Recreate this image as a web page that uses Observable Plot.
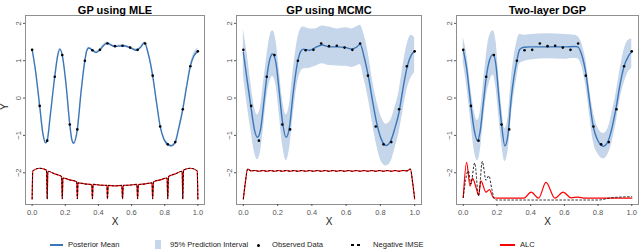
<!DOCTYPE html>
<html><head><meta charset="utf-8">
<script src="https://cdn.jsdelivr.net/npm/d3@7"></script>
<script src="https://cdn.jsdelivr.net/npm/@observablehq/plot@0.6"></script>
<style>
body{margin:0;background:#fff;font-family:"Liberation Sans",Arial,sans-serif;}
#wrap{position:relative;width:640px;height:251px;overflow:hidden;background:#fff;}
.panel{position:absolute;top:0;}
.lg{position:absolute;font-size:7.6px;color:#222;line-height:10px;top:240px;white-space:nowrap;}
.sw{position:absolute;}
</style></head><body><div id="wrap"></div>
<script>
// ---- data ----
const titles = ["GP using MLE", "GP using MCMC", "Two-layer DGP"];
const xTicks = [0, 0.2, 0.4, 0.6, 0.8, 1.0];
const yTicks = [-2, -1, 0, 1, 2];

const xObs = [0, 0.0455, 0.0909, 0.1364, 0.1818, 0.2273, 0.2727, 0.3182, 0.3636, 0.4091, 0.4545, 0.5, 0.5455, 0.5909, 0.6364, 0.6818, 0.7273, 0.7727, 0.8182, 0.8636, 0.9091, 0.9545, 1.0];
const yObs = [1.29, -0.21, -1.14, 0.57, 1.15, -0.71, -0.84, 1.00, 1.28, 1.29, 1.46, 1.39, 1.40, 1.35, 1.29, 1.46, 0.60, -0.76, -1.24, -1.18, -0.30, 0.85, 1.25];

// GP using MLE
const mleX = [0, 0.02, 0.0455, 0.065, 0.082, 0.0909, 0.11, 0.1364, 0.155, 0.168, 0.1818, 0.205, 0.2273, 0.24, 0.251, 0.2727, 0.295, 0.3182, 0.33, 0.342, 0.3636, 0.386, 0.4091, 0.43, 0.453, 0.48, 0.5, 0.5455, 0.5909, 0.63, 0.655, 0.678, 0.70, 0.7273, 0.75, 0.7727, 0.795, 0.8182, 0.84, 0.8636, 0.885, 0.9091, 0.93, 0.9545, 0.975, 1.0];
const mleMean = [1.30, 0.75, -0.21, -0.95, -1.20, -1.14, -0.45, 0.57, 1.15, 1.31, 1.15, 0.35, -0.71, -1.12, -1.21, -0.84, 0.15, 1.00, 1.27, 1.34, 1.28, 1.22, 1.29, 1.40, 1.47, 1.41, 1.38, 1.40, 1.35, 1.28, 1.36, 1.48, 1.20, 0.60, -0.10, -0.76, -1.10, -1.24, -1.28, -1.18, -0.80, -0.30, 0.25, 0.85, 1.12, 1.25];
const mleLo = [1.26, 0.71, -0.24, -0.98, -1.23, -1.17, -0.48, 0.54, 1.12, 1.28, 1.12, 0.32, -0.74, -1.15, -1.24, -0.87, 0.12, 0.97, 1.24, 1.31, 1.25, 1.19, 1.26, 1.37, 1.44, 1.38, 1.35, 1.37, 1.32, 1.25, 1.33, 1.45, 1.17, 0.57, -0.13, -0.79, -1.13, -1.27, -1.31, -1.21, -0.83, -0.33, 0.21, 0.80, 1.05, 1.17];
const mleHi = [1.34, 0.79, -0.18, -0.92, -1.17, -1.11, -0.42, 0.60, 1.18, 1.34, 1.18, 0.38, -0.68, -1.09, -1.18, -0.81, 0.18, 1.03, 1.30, 1.37, 1.31, 1.25, 1.32, 1.43, 1.50, 1.44, 1.41, 1.43, 1.38, 1.31, 1.39, 1.51, 1.23, 0.63, -0.07, -0.73, -1.07, -1.21, -1.25, -1.15, -0.77, -0.27, 0.29, 0.90, 1.19, 1.33];
const mleCritX = [0, 0.004, 0.045, 0.087, 0.0909, 0.095, 0.136, 0.178, 0.1818, 0.186, 0.227, 0.269, 0.2727, 0.277, 0.318, 0.360, 0.3636, 0.368, 0.409, 0.451, 0.4545, 0.459, 0.5, 0.541, 0.5455, 0.550, 0.591, 0.632, 0.6364, 0.641, 0.682, 0.723, 0.7273, 0.732, 0.773, 0.814, 0.8182, 0.823, 0.864, 0.905, 0.9091, 0.913, 0.955, 0.996, 1.0];
const mleAlc = [-2.70, -1.95, -1.88, -1.93, -2.70, -1.96, -2.03, -2.10, -2.70, -2.14, -2.19, -2.24, -2.70, -2.27, -2.30, -2.32, -2.70, -2.31, -2.33, -2.34, -2.70, -2.34, -2.35, -2.34, -2.70, -2.34, -2.33, -2.31, -2.70, -2.32, -2.30, -2.27, -2.70, -2.24, -2.19, -2.14, -2.70, -2.10, -2.03, -1.96, -2.70, -1.93, -1.88, -1.95, -2.70];
const mleImse = [-2.70, -1.95, -1.88, -1.93, -2.70, -1.96, -2.03, -2.10, -2.70, -2.14, -2.19, -2.24, -2.70, -2.27, -2.30, -2.32, -2.70, -2.31, -2.33, -2.34, -2.70, -2.34, -2.35, -2.34, -2.70, -2.34, -2.33, -2.31, -2.70, -2.32, -2.30, -2.27, -2.70, -2.24, -2.19, -2.14, -2.70, -2.10, -2.03, -1.96, -2.70, -1.93, -1.88, -1.95, -2.70];

// GP using MCMC
const mcX = [0, 0.02, 0.0455, 0.065, 0.0825, 0.1, 0.12, 0.1364, 0.155, 0.171, 0.19, 0.21, 0.2273, 0.25, 0.27, 0.29, 0.3182, 0.335, 0.35, 0.387, 0.42, 0.46, 0.5, 0.55, 0.6, 0.633, 0.66, 0.682, 0.705, 0.731, 0.755, 0.78, 0.805, 0.833, 0.86, 0.885, 0.908, 0.93, 0.957, 0.98, 1.0];
const mcMean = [1.22, 0.55, -0.28, -0.85, -1.05, -0.85, -0.10, 0.55, 1.05, 1.18, 0.95, 0.15, -0.60, -1.05, -0.75, 0.10, 1.00, 1.25, 1.31, 1.28, 1.35, 1.42, 1.37, 1.37, 1.35, 1.31, 1.36, 1.44, 1.10, 0.55, -0.10, -0.70, -1.10, -1.27, -1.15, -0.80, -0.40, 0.20, 0.85, 1.15, 1.25];
const mcHi = [1.85, 1.25, 0.35, -0.25, -0.45, -0.25, 0.50, 1.10, 1.65, 1.80, 1.55, 0.75, 0.00, -0.45, -0.15, 0.70, 1.60, 1.85, 1.90, 1.85, 1.85, 1.93, 1.90, 1.85, 1.88, 1.85, 1.90, 1.95, 1.70, 1.15, 0.45, -0.10, -0.50, -0.70, -0.60, -0.25, 0.15, 0.80, 1.45, 1.68, 1.62];
const mcLo = [0.62, -0.10, -0.90, -1.45, -1.65, -1.45, -0.70, 0.00, 0.45, 0.58, 0.35, -0.45, -1.20, -1.68, -1.35, -0.50, 0.45, 0.70, 0.78, 0.80, 0.85, 0.92, 0.87, 0.86, 0.85, 0.82, 0.86, 0.90, 0.50, -0.05, -0.70, -1.30, -1.70, -1.82, -1.72, -1.35, -0.95, -0.40, 0.25, 0.55, 0.68];
const mcCritX = [0, 0.012, 0.025, 0.045, 0.068, 0.091, 0.114, 0.136, 0.159, 0.182, 0.205, 0.227, 0.25, 0.273, 0.295, 0.318, 0.341, 0.364, 0.386, 0.409, 0.432, 0.455, 0.477, 0.5, 0.523, 0.545, 0.568, 0.591, 0.614, 0.636, 0.659, 0.682, 0.705, 0.727, 0.75, 0.773, 0.795, 0.818, 0.841, 0.864, 0.886, 0.909, 0.932, 0.955, 0.975, 0.988, 1.0];
const mcAlc = [-2.70, -2.25, -1.90, -1.95, -1.94, -1.96, -1.94, -1.96, -1.94, -1.96, -1.94, -1.96, -1.94, -1.96, -1.94, -1.96, -1.94, -1.96, -1.94, -1.96, -1.94, -1.96, -1.94, -1.96, -1.94, -1.96, -1.94, -1.96, -1.94, -1.96, -1.94, -1.96, -1.94, -1.96, -1.94, -1.96, -1.94, -1.96, -1.94, -1.96, -1.94, -1.96, -1.94, -1.95, -1.90, -2.25, -2.70];
const mcImse = [-2.70, -2.25, -1.90, -1.95, -1.94, -1.96, -1.94, -1.96, -1.94, -1.96, -1.94, -1.96, -1.94, -1.96, -1.94, -1.96, -1.94, -1.96, -1.94, -1.96, -1.94, -1.96, -1.94, -1.96, -1.94, -1.96, -1.94, -1.96, -1.94, -1.96, -1.94, -1.96, -1.94, -1.96, -1.94, -1.96, -1.94, -1.96, -1.94, -1.96, -1.94, -1.96, -1.94, -1.95, -1.90, -2.25, -2.70];

// Two-layer DGP
const dgX = [0, 0.02, 0.0455, 0.065, 0.085, 0.1, 0.12, 0.1364, 0.155, 0.178, 0.195, 0.21, 0.2273, 0.247, 0.265, 0.285, 0.3182, 0.335, 0.36, 0.4, 0.5, 0.6, 0.66, 0.68, 0.7, 0.73, 0.75, 0.769, 0.8, 0.832, 0.86, 0.885, 0.906, 0.93, 0.955, 0.98, 1.0];
const dgMean = [1.29, 0.80, -0.20, -0.85, -1.14, -0.90, -0.10, 0.55, 1.00, 1.17, 0.85, 0.10, -0.70, -1.28, -1.00, 0.00, 1.00, 1.30, 1.36, 1.37, 1.37, 1.37, 1.38, 1.37, 1.20, 0.60, -0.10, -0.70, -1.15, -1.29, -1.15, -0.75, -0.29, 0.35, 0.86, 1.12, 1.24];
const dgHi = [1.62, 1.20, 0.25, -0.35, -0.60, -0.40, 0.40, 1.10, 1.65, 1.80, 1.50, 0.65, -0.20, -0.82, -0.55, 0.50, 1.50, 1.70, 1.68, 1.70, 1.72, 1.70, 1.68, 1.65, 1.50, 0.95, 0.25, -0.30, -0.80, -0.95, -0.80, -0.35, 0.10, 0.75, 1.30, 1.55, 1.58];
const dgLo = [0.95, 0.35, -0.65, -1.40, -1.68, -1.45, -0.60, 0.00, 0.40, 0.62, 0.25, -0.45, -1.20, -1.70, -1.45, -0.50, 0.55, 0.92, 0.98, 1.02, 1.05, 1.04, 1.06, 1.05, 0.90, 0.25, -0.45, -1.10, -1.50, -1.63, -1.50, -1.15, -0.70, -0.05, 0.40, 0.70, 0.80];
const dgAlcX = [0, 0.02, 0.04, 0.055, 0.075, 0.0909, 0.105, 0.135, 0.155, 0.18, 0.2, 0.36, 0.403, 0.447, 0.491, 0.544, 0.593, 0.64, 0.68, 0.72, 1.0];
const dgAlc = [-2.66, -1.72, -2.35, -2.15, -2.38, -2.60, -2.22, -2.52, -2.45, -2.67, -2.68, -2.68, -2.52, -2.68, -2.26, -2.68, -2.52, -2.67, -2.65, -2.68, -2.68];
const dgImseX = [0, 0.03, 0.045, 0.068, 0.0909, 0.113, 0.135, 0.152, 0.17, 0.185, 0.2, 0.8, 0.88, 1.0];
const dgImse = [-2.66, -1.95, -2.30, -1.74, -2.62, -1.70, -2.20, -2.08, -2.45, -2.70, -2.73, -2.73, -2.67, -2.64];

const legendLabels = ["Posterior Mean", "95% Prediction Interval", "Observed Data", "Negative IMSE", "ALC"];

// ---- styles ----
const BLUE = "#3a76b8", BAND = "#c5d5ea", RED = "#ff0000";
const FONT = "'Liberation Sans', Arial, Helvetica, sans-serif";

const zip = (xs, ys) => xs.map((x, i) => ({x, y: ys[i]}));
const zipBand = (xs, lo, hi) => xs.map((x, i) => ({x, lo: lo[i], hi: hi[i]}));
const obs = zip(xObs, yObs);

const panels = [
  {left: 0, width: 210, ml: 25, mr: 6, title: titles[0], mean: zip(mleX, mleMean), band: zipBand(mleX, mleLo, mleHi),
   alc: zip(mleCritX, mleAlc), imse: zip(mleCritX, mleImse), yLabel: true},
  {left: 210, width: 213, ml: 26, mr: 2, title: titles[1], mean: zip(mcX, mcMean), band: zipBand(mcX, mcLo, mcHi),
   alc: zip(mcCritX, mcAlc), imse: zip(mcCritX, mcImse), yLabel: false},
  {left: 428, width: 212, ml: 28, mr: 2, title: titles[2], mean: zip(dgX, dgMean), band: zipBand(dgX, dgLo, dgHi),
   alc: zip(dgAlcX, dgAlc), imse: zip(dgImseX, dgImse), yLabel: false}
];

const wrap = document.getElementById("wrap");
for (const p of panels) {
  const marks = [
    Plot.areaY(p.band, {x: "x", y1: "lo", y2: "hi", fill: BAND, curve: "monotone-x"}),
    Plot.line(p.mean, {x: "x", y: "y", stroke: BLUE, strokeWidth: 1.4, curve: "monotone-x"}),
    Plot.dot(obs, {x: "x", y: "y", r: 1.3, fill: "#000"}),
    Plot.line(p.alc, {x: "x", y: "y", stroke: RED, strokeWidth: 1.2, curve: "monotone-x"}),
    Plot.line(p.imse, {x: "x", y: "y", stroke: "#000", strokeWidth: 0.9, strokeDasharray: "1.5,2.5", curve: "monotone-x"}),
    Plot.frame({stroke: "#8f8f8f", strokeWidth: 1}),
    Plot.axisX(xTicks, {tickFormat: d3.format(".1f"), tickSize: 2, tickPadding: 3, fontSize: 7.5, color: "#555", label: null}),
    Plot.axisY(yTicks, {tickRotate: -90, tickSize: 2, tickPadding: 3, fontSize: 7.5, color: "#555", label: null}),
    Plot.text([p.title], {frameAnchor: "top", dy: -9, fontWeight: "bold", fontSize: 11, fill: "#000"}),
    Plot.text(["X"], {frameAnchor: "bottom", dy: 20, fontSize: 10, fill: "#222"})
  ];
  if (p.yLabel) marks.push(Plot.text(["Y"], {frameAnchor: "left", dx: -21, rotate: -90, fontSize: 10, fill: "#222"}));
  const svg = Plot.plot({
    width: p.width, height: 232,
    marginLeft: p.ml, marginRight: p.mr, marginTop: 15, marginBottom: 28,
    x: {domain: [-0.04, 1.04]},
    y: {domain: [-2.85, 2.21]},
    style: {fontFamily: FONT, background: "transparent", overflow: "visible"},
    marks
  });
  svg.classList.add("panel");
  svg.style.position = "absolute";
  svg.style.left = p.left + "px";
  svg.style.top = "0px";
  wrap.appendChild(svg);
}

// ---- legend ----
function el(cls, css, text) {
  const d = document.createElement("div");
  d.className = cls;
  Object.assign(d.style, css);
  if (text) d.textContent = text;
  wrap.appendChild(d);
}
el("sw", {left: "50px", top: "244px", width: "13px", height: "2px", background: BLUE});
el("lg", {left: "68px"}, legendLabels[0]);
el("sw", {left: "155px", top: "240px", width: "6px", height: "9px", background: BAND});
el("lg", {left: "170px"}, legendLabels[1]);
el("sw", {left: "257px", top: "243.5px", width: "3px", height: "3px", borderRadius: "50%", background: "#000"});
el("lg", {left: "272px"}, legendLabels[2]);
el("sw", {left: "351px", top: "244px", width: "3px", height: "1.5px", background: "#000"});
el("sw", {left: "357px", top: "244px", width: "3px", height: "1.5px", background: "#000"});
el("lg", {left: "373px"}, legendLabels[3]);
el("sw", {left: "500px", top: "244px", width: "15px", height: "2px", background: RED});
el("lg", {left: "520px"}, legendLabels[4]);
</script></body></html>
